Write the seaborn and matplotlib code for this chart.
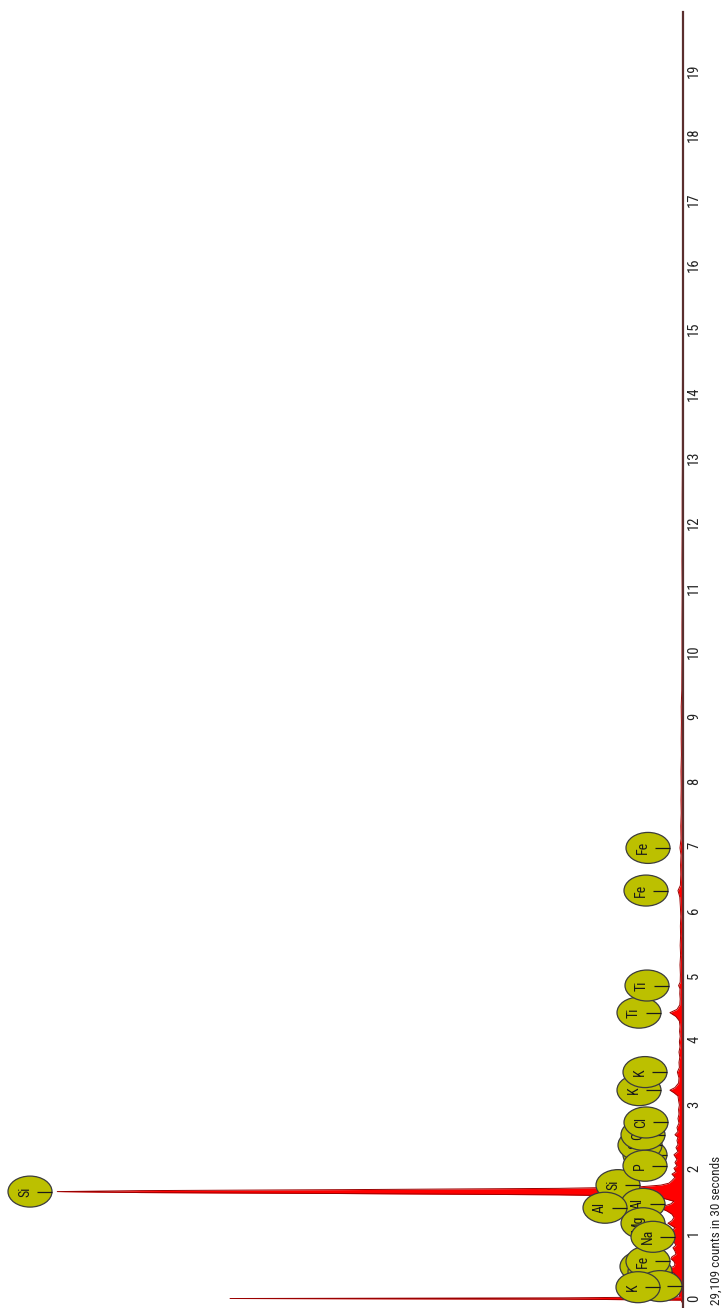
import matplotlib
matplotlib.use("Agg")
import matplotlib.pyplot as plt
from matplotlib.patches import Ellipse
from matplotlib.transforms import ScaledTranslation
from matplotlib import font_manager
import pandas as pd
import seaborn as sns

# ---- spectrum (energy in keV, counts per channel) ----
energy_kev = [
    0.00, 0.06, 0.075, 0.085, 0.095, 0.11, 0.15, 0.20, 0.24, 0.265, 0.28, 0.30,
    0.33, 0.38, 0.43, 0.48, 0.51, 0.53, 0.55, 0.58, 0.62, 0.66, 0.70, 0.73,
    0.77, 0.82, 0.87, 0.91, 0.96, 1.00, 1.04, 1.08, 1.13, 1.18, 1.22, 1.25,
    1.29, 1.34, 1.39, 1.44, 1.48, 1.51, 1.55, 1.59, 1.63, 1.67, 1.69, 1.71,
    1.725, 1.74, 1.755, 1.77, 1.79, 1.81, 1.84, 1.87, 1.91, 1.96, 2.01, 2.05,
    2.10, 2.14, 2.19, 2.24, 2.31, 2.36, 2.42, 2.47, 2.53, 2.58, 2.62, 2.67,
    2.73, 2.80, 2.87, 2.94, 3.01, 3.08, 3.15, 3.22, 3.27, 3.31, 3.35, 3.42,
    3.50, 3.59, 3.66, 3.74, 3.82, 3.90, 3.98, 4.06, 4.14, 4.22, 4.30, 4.38,
    4.45, 4.51, 4.56, 4.63, 4.72, 4.80, 4.88, 4.93, 4.98, 5.10, 5.25, 5.40,
    5.55, 5.70, 5.85, 6.00, 6.15, 6.30, 6.40, 6.48, 6.65, 6.80, 6.95, 7.06,
    7.20, 7.40, 7.60, 7.80, 8.00, 8.25, 8.50, 8.75, 9.00, 9.25, 9.50, 10.0,
    10.5, 11.0, 11.5, 12.0, 12.5, 13.0, 14.0, 15.0, 16.0, 17.0, 18.0, 19.0,
    20.0,
]
counts = [
    0, 10, 600, 2255, 600, 15, 20, 30, 45, 70, 75, 55,
    30, 25, 30, 45, 85, 100, 80, 45, 40, 45, 60, 55,
    35, 40, 50, 35, 45, 50, 65, 45, 55, 40, 60, 75,
    55, 45, 55, 80, 110, 100, 60, 45, 90, 220, 620, 1700,
    2700, 3115, 2700, 1700, 620, 230, 110, 70, 55, 40, 55, 35,
    45, 30, 40, 30, 45, 25, 35, 25, 30, 25, 40, 25,
    30, 20, 25, 20, 22, 18, 22, 25, 45, 65, 40, 22,
    20, 28, 18, 20, 16, 20, 15, 18, 14, 17, 15, 18,
    35, 65, 30, 16, 14, 16, 15, 22, 14, 13, 15, 12,
    14, 12, 13, 11, 13, 16, 25, 13, 11, 12, 10, 15,
    10, 11, 9, 10, 9, 10, 8, 9, 8, 9, 6, 5,
    5, 4, 5, 4, 4, 3, 3, 2, 2, 2, 1, 1,
    1,
]

# ---- element line markers, listed back to front ("" = tag fully covered) ----
marker_element = ["Fe", "Fe", "Ti", "Ti", "K", "K",
                  "S", "S", "Cl", "Cl",
                  "Si", "P", "Al", "Al", "Mg",
                  "", "", "Fe", "Na", "", "K", "Si"]
marker_kev = [7.06, 6.40, 4.51, 4.93, 3.31, 3.59,
              2.31, 2.46, 2.62, 2.81,
              1.84, 2.14, 1.55, 1.49, 1.25,
              0.58, 0.50, 0.66, 1.04, 0.277, 0.26, 1.74]

energy_ticks = list(range(0, 20))
acquisition_note = "29,109 counts in 30 seconds"

# ---- layout / style ----
W, H, DPI = 725, 1308, 100
BASE_X = 683          # pixel column of the energy axis
TOP_Y = 12            # pixel row where the energy axis ends
COUNT_MAX = 3400
E_MIN, E_MAX = -0.062, 20.0
# distance (px) of each marker centre from the energy axis
marker_gap_px = [35, 37, 44, 36, 44, 38,
                 38, 43, 40, 37,
                 65, 38, 40, 78, 40,
                 41, 33, 35, 30, 23, 45, 653]
ELL_W_PX, ELL_H_PX = 44, 31

sns.set_theme(style="white")
available = {f.name for f in font_manager.fontManager.ttflist}
narrow = next((n for n in ["Liberation Sans Narrow", "Roboto Condensed",
                           "Open Sans Condensed"] if n in available), "DejaVu Sans")
plt.rcParams["font.family"] = [narrow, "DejaVu Sans"]
plt.rcParams["font.stretch"] = "condensed"

fig = plt.figure(figsize=(W / DPI, H / DPI), dpi=DPI)
fig.patch.set_facecolor("white")
ax = fig.add_axes([0, 0, BASE_X / W, 1 - TOP_Y / H])
ax.set_facecolor("white")

df = pd.DataFrame({"energy": energy_kev, "counts": counts})
ax.fill_betweenx(df["energy"], 0, df["counts"], color="#ff0000", lw=0, zorder=2)
sns.lineplot(data=df, x="counts", y="energy", orient="y", sort=False,
             color="#9a0000", lw=0.7, ax=ax, zorder=3)

ax.set_xlim(COUNT_MAX, 0)
ax.set_ylim(E_MIN, E_MAX)
ax.set_xticks([])
ax.set_xlabel("")
ax.set_ylabel("")
for side in ("top", "bottom", "left"):
    ax.spines[side].set_visible(False)
ax.spines["right"].set_color("#5a2e2e")
ax.spines["right"].set_linewidth(1.6)
ax.spines["right"].set_zorder(4)

ax.yaxis.tick_right()
ax.set_yticks(energy_ticks)
ax.set_yticklabels([str(t) for t in energy_ticks], rotation=90, fontsize=10.5,
                   color="#222222")
ax.tick_params(axis="y", length=0, pad=3)
shift = ScaledTranslation(0, 6 / DPI, fig.dpi_scale_trans)
for lab in ax.get_yticklabels():
    lab.set_transform(lab.get_transform() + shift)
    lab.set_va("center")

cpp = COUNT_MAX / BASE_X                     # counts per pixel
kpp = (E_MAX - E_MIN) / (H - TOP_Y)          # keV per pixel
ew, eh = ELL_W_PX * cpp, ELL_H_PX * kpp
for i, (el, e, gap) in enumerate(zip(marker_element, marker_kev, marker_gap_px)):
    cx = gap * cpp
    z = 10 + 3 * i
    ax.add_patch(Ellipse((cx, e), ew, eh, facecolor="#bcc000",
                         edgecolor="#3c3c3c", lw=0.9, zorder=z))
    ax.plot([cx - 7 * cpp, cx - ew / 2], [e, e], color="#1a1a1a", lw=0.9,
            zorder=z + 1, solid_capstyle="butt")
    if el:
        ax.text(cx + 5 * cpp, e, el, rotation=90, ha="center", va="center",
                fontsize=10, color="#1a1a1a", zorder=z + 2)

fig.text(716 / W, 3 / H, acquisition_note, rotation=90, ha="center", va="bottom",
         fontsize=9.5, color="#222222")

fig.savefig("out.png", dpi=DPI, facecolor="white")
